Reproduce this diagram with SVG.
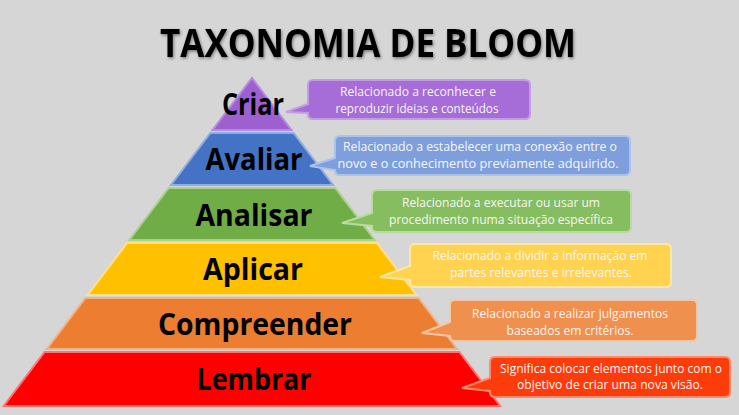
<svg xmlns="http://www.w3.org/2000/svg" width="739" height="415" viewBox="0 0 739 415">
<defs>
<filter id="sh" x="-10%" y="-30%" width="120%" height="160%">
<feDropShadow dx="1" dy="1.5" stdDeviation="1.5" flood-color="#000" flood-opacity="0.45"/>
</filter>
</defs>
<style>
.title{font-family:"Open Sans","Liberation Sans",sans-serif;font-weight:700;font-size:40px;fill:#000;}
.lbl{font-family:"Open Sans","Liberation Sans",sans-serif;font-weight:700;font-size:30px;fill:#000;text-anchor:middle;}
.ct{font-family:"Open Sans","Liberation Sans",sans-serif;font-size:12px;fill:#f6f6f6;text-anchor:middle;}
.band{stroke-width:2;stroke-linejoin:miter;}
.call{stroke-width:2;}
</style>
<rect width="739" height="415" fill="#d6d6d6"/>
<text class="title" x="160" y="57" textLength="416" lengthAdjust="spacingAndGlyphs" filter="url(#sh)">TAXONOMIA DE BLOOM</text>

<g id="criar">
<polygon class="band" points="252,78 291.4,130 212.6,130" fill="#9d60d1" stroke="#b88ade"/>
<text class="lbl" x="253" y="115" font-size="28" textLength="62" lengthAdjust="spacingAndGlyphs">Criar</text>
</g>
<g id="avaliar">
<polygon class="band" points="210.4,133 293.6,133 333,185 171,185" fill="#4472c4" stroke="#8eaee3"/>
<text class="lbl" x="254" y="170" textLength="97" lengthAdjust="spacingAndGlyphs">Avaliar</text>
</g>
<g id="analisar">
<polygon class="band" points="168.7,188 335.3,188 374.6,240 129.4,240" fill="#70ad47" stroke="#a9d18e"/>
<text class="lbl" x="254" y="226" textLength="117" lengthAdjust="spacingAndGlyphs">Analisar</text>
</g>
<g id="aplicar">
<polygon class="band" points="127.1,243 376.9,243 416.3,295 87.7,295" fill="#ffc000" stroke="#ffe08a"/>
<text class="lbl" x="253" y="280" textLength="100" lengthAdjust="spacingAndGlyphs">Aplicar</text>
</g>
<g id="compreender">
<polygon class="band" points="85.5,298 418.5,298 457.1,349 46.9,349" fill="#ed7d31" stroke="#f4b183"/>
<text class="lbl" x="255" y="335" textLength="194" lengthAdjust="spacingAndGlyphs">Compreender</text>
</g>
<g id="lembrar">
<polygon class="band" points="44.6,352 459.4,352 500.3,406 3.7,406" fill="#ff0000" stroke="#ff7373"/>
<text class="lbl" x="254" y="390" textLength="115" lengthAdjust="spacingAndGlyphs">Lembrar</text>
</g>

<g id="connectors">
<g id="callout-criar">
<path class="call" d="M313,80 H525 Q530,80 530,85 V114 Q530,119 525,119 H313 Q308,119 308,114 V113 L286,112 L308,104 V85 Q308,80 313,80 Z" fill="#a66cd8" stroke="#c39ce6"/>
<text class="ct" x="418" y="96" textLength="156" lengthAdjust="spacingAndGlyphs">Relacionado a reconhecer e</text>
<text class="ct" x="417" y="113" textLength="163" lengthAdjust="spacingAndGlyphs">reproduzir ideias e conteúdos</text>
</g>
<g id="callout-avaliar">
<path class="call" d="M340,136 H625 Q630,136 630,141 V170 Q630,175 625,175 H340 Q335,175 335,170 L310,166 L335,158 V141 Q335,136 340,136 Z" fill="#7e9fdc" stroke="#aac2ee"/>
<text class="ct" x="480" y="151" textLength="274" lengthAdjust="spacingAndGlyphs">Relacionado a estabelecer uma conexão entre o</text>
<text class="ct" x="478" y="168" textLength="281" lengthAdjust="spacingAndGlyphs">novo e o conhecimento previamente adquirido.</text>
</g>
<g id="callout-analisar">
<path class="call" d="M377,190 H626 Q631,190 631,195 V227 Q631,232 626,232 H377 Q372,232 372,227 V226 L342,223 L372,213 V195 Q372,190 377,190 Z" fill="#86bd5f" stroke="#b7dba0"/>
<text class="ct" x="501" y="207" textLength="198" lengthAdjust="spacingAndGlyphs">Relacionado a executar ou usar um</text>
<text class="ct" x="501" y="224" textLength="224" lengthAdjust="spacingAndGlyphs">procedimento numa situação específica</text>
</g>
<g id="callout-aplicar">
<path class="call" d="M415,244 H666 Q671,244 671,249 V282 Q671,287 666,287 H415 Q410,287 410,282 V280 L380,277 L410,266 V249 Q410,244 415,244 Z" fill="#ffd24f" stroke="#ffe7a0"/>
<text class="ct" x="540" y="260" fill="#fff6dc" textLength="215" lengthAdjust="spacingAndGlyphs">Relacionado a dividir a informação em</text>
<text class="ct" x="541" y="277" fill="#fff6dc" textLength="182" lengthAdjust="spacingAndGlyphs">partes relevantes e irrelevantes.</text>
</g>
<g id="callout-compreender">
<path class="call" d="M455,300 H692 Q697,300 697,305 V336 Q697,341 692,341 H455 Q450,341 450,336 L422,333 L450,322 V305 Q450,300 455,300 Z" fill="#f0904f" stroke="#f8c6a3"/>
<text class="ct" x="570" y="318" textLength="196" lengthAdjust="spacingAndGlyphs">Relacionado a realizar julgamentos</text>
<text class="ct" x="570" y="335" textLength="127" lengthAdjust="spacingAndGlyphs">baseados em critérios.</text>
</g>
<g id="callout-lembrar">
<path class="call" d="M495,357 H725 Q730,357 730,362 V392 Q730,397 725,397 H495 Q490,397 490,392 V391 L462,388 L490,378 V362 Q490,357 495,357 Z" fill="#fc3c0a" stroke="#ff8a6a"/>
<text class="ct" x="611" y="373" fill="#ffffff" textLength="222" lengthAdjust="spacingAndGlyphs">Significa colocar elementos junto com o</text>
<text class="ct" x="610" y="389" fill="#ffffff" textLength="186" lengthAdjust="spacingAndGlyphs">objetivo de criar uma nova visão.</text>
</g>
</g>
</svg>
